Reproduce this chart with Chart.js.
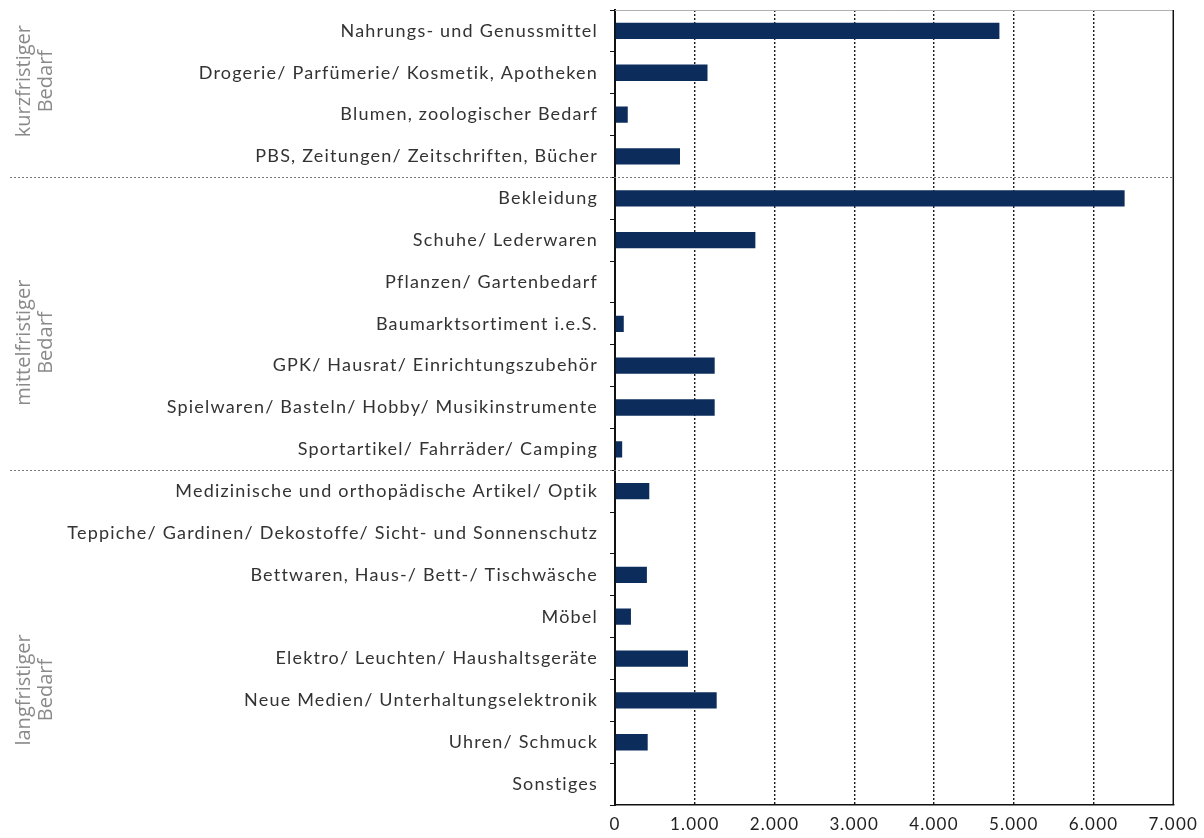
<!DOCTYPE html>
<html>
<head>
<meta charset="utf-8">
<script src="https://cdn.jsdelivr.net/npm/chart.js@4.4.1/dist/chart.umd.min.js"></script>
<style>
  html, body { margin: 0; padding: 0; background: #fff; }
  #wrap { width: 1204px; height: 838px; }
</style>
</head>
<body>
<div id="wrap"><canvas id="chart" width="1204" height="838"></canvas></div>
<script>
// Kategorien und Werte
const categories = [
  'Nahrungs- und Genussmittel',
  'Drogerie/ Parfümerie/ Kosmetik, Apotheken',
  'Blumen, zoologischer Bedarf',
  'PBS, Zeitungen/ Zeitschriften, Bücher',
  'Bekleidung',
  'Schuhe/ Lederwaren',
  'Pflanzen/ Gartenbedarf',
  'Baumarktsortiment i.e.S.',
  'GPK/ Hausrat/ Einrichtungszubehör',
  'Spielwaren/ Basteln/ Hobby/ Musikinstrumente',
  'Sportartikel/ Fahrräder/ Camping',
  'Medizinische und orthopädische Artikel/ Optik',
  'Teppiche/ Gardinen/ Dekostoffe/ Sicht- und Sonnenschutz',
  'Bettwaren, Haus-/ Bett-/ Tischwäsche',
  'Möbel',
  'Elektro/ Leuchten/ Haushaltsgeräte',
  'Neue Medien/ Unterhaltungselektronik',
  'Uhren/ Schmuck',
  'Sonstiges'
];
const values = [4820, 1160, 160, 815, 6390, 1760, 0, 110, 1250, 1250, 90, 430, 0, 400, 200, 915, 1275, 410, 0];

// Bedarfsgruppen: Anzahl Kategorien je Gruppe
const groupNames = [['kurzfristiger', 'Bedarf'], ['mittelfristiger', 'Bedarf'], ['langfristiger', 'Bedarf']];
const groupSizes = [4, 7, 8];
const xTicks = [0, 1000, 2000, 3000, 4000, 5000, 6000, 7000];

const fmt = v => v.toLocaleString('de-DE');

// etwas Laufweite wie im Original
const spacingPlugin = {
  id: 'spacing',
  beforeDraw(chart) { chart.ctx.letterSpacing = '1.2px'; },
  afterDraw(chart) { chart.ctx.letterSpacing = '0px'; }
};

// Gruppen-Trennlinien und Beschriftungen links
const groupPlugin = {
  id: 'groups',
  afterDatasetsDraw(chart) {
    const { ctx, chartArea, scales: { y } } = chart;
    ctx.save();
    ctx.letterSpacing = '0px';
    // Rahmen oben/rechts
    ctx.strokeStyle = '#b0b0b0';
    ctx.lineWidth = 1;
    ctx.beginPath();
    ctx.moveTo(chartArea.left, chartArea.top + 0.5);
    ctx.lineTo(chartArea.right, chartArea.top + 0.5);
    ctx.stroke();
    ctx.strokeStyle = '#111';
    ctx.lineWidth = 1.5;
    ctx.beginPath();
    ctx.moveTo(chartArea.right, chartArea.top);
    ctx.lineTo(chartArea.right, chartArea.bottom);
    ctx.stroke();

    // Trennlinien
    ctx.strokeStyle = '#777';
    ctx.lineWidth = 1;
    ctx.setLineDash([2, 2]);
    let idx = 0;
    for (let g = 0; g < groupSizes.length - 1; g++) {
      idx += groupSizes[g];
      const py = Math.round(y.getPixelForValue(idx - 0.5)) + 0.5;
      ctx.beginPath();
      ctx.moveTo(10, py);
      ctx.lineTo(chartArea.right, py);
      ctx.stroke();
    }
    ctx.setLineDash([]);

    // Gruppenbeschriftung (gedreht)
    const labelPos = [1.2, 7.45, 15.75];
    ctx.fillStyle = '#8a8a8a';
    ctx.font = '20px "Open Sans", sans-serif';
    ctx.textAlign = 'center';
    ctx.textBaseline = 'middle';
    groupNames.forEach((lines, i) => {
      const py = y.getPixelForValue(labelPos[i]);
      ctx.save();
      ctx.translate(35, py);
      ctx.rotate(-Math.PI / 2);
      ctx.fillText(lines[0], 0, -11);
      ctx.fillText(lines[1], 0, 11);
      ctx.restore();
    });
    ctx.restore();
  }
};

new Chart(document.getElementById('chart'), {
  type: 'bar',
  data: {
    labels: categories,
    datasets: [{
      data: values,
      backgroundColor: '#0c2d5c',
      barPercentage: 0.39,
      categoryPercentage: 1
    }]
  },
  options: {
    indexAxis: 'y',
    responsive: false,
    animation: false,
    layout: { padding: { top: 10, right: 27, left: 0, bottom: 0 } },
    plugins: {
      legend: { display: false },
      tooltip: { enabled: false }
    },
    scales: {
      x: {
        min: 0,
        max: 7000,
        afterBuildTicks: s => { s.ticks = xTicks.map(v => ({ value: v })); },
        afterFit: s => { s.height = 33; },
        ticks: {
          callback: v => fmt(v),
          color: '#222',
          font: { family: 'Lato', size: 17 },
          padding: 9,
          maxRotation: 0
        },
        grid: {
          color: ctx => (ctx.tick && (ctx.tick.value === 0 || ctx.tick.value === 7000)) ? 'rgba(0,0,0,0)' : '#1a1a1a',
          lineWidth: 1.4,
          drawTicks: false
        },
        border: { display: true, color: '#111', width: 1.5, dash: [2, 2] }
      },
      y: {
        afterFit: s => { s.width = 615; s.paddingTop = 0; s.paddingBottom = 0; },
        ticks: {
          color: '#333',
          font: { family: 'Lato', size: 18 },
          padding: 12,
          autoSkip: false
        },
        grid: {
          drawOnChartArea: false,
          drawTicks: true,
          tickLength: 5,
          color: '#111'
        },
        border: { display: true, color: '#111', width: 2 }
      }
    }
  },
  plugins: [spacingPlugin, groupPlugin]
});
</script>
</body>
</html>
